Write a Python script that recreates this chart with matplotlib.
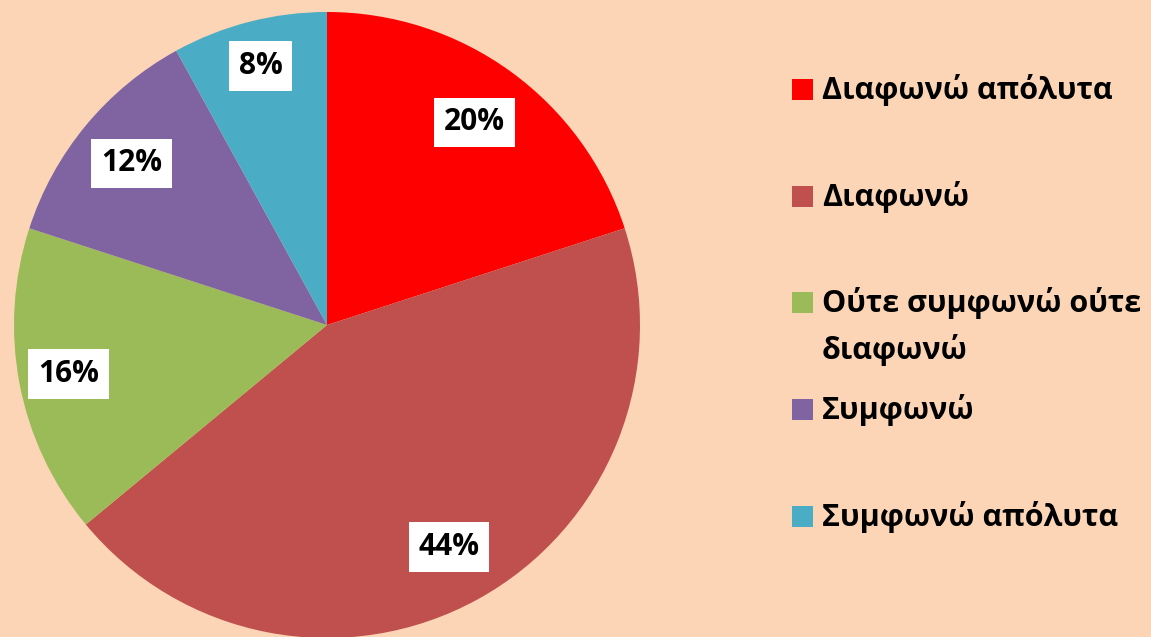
import matplotlib
matplotlib.use("Agg")
from matplotlib import pyplot as plt
from matplotlib.patches import Rectangle
import numpy as np

labels = ["Διαφωνώ απόλυτα", "Διαφωνώ", "Ούτε συμφωνώ ούτε\nδιαφωνώ", "Συμφωνώ", "Συμφωνώ απόλυτα"]
values = [20, 44, 16, 12, 8]
colors = ["#FF0000", "#C0504D", "#9BBB59", "#8064A2", "#4BACC6"]

bg = "#FBD5B5"
W, H = 1151, 637

plt.rcParams["font.family"] = ["Open Sans", "DejaVu Sans"]

fig = plt.figure(figsize=(W / 100, H / 100), dpi=100)
fig.patch.set_facecolor(bg)

# pie area in pixels: centre (327,325), radius 313
cx, cy, r = 327, 325, 313
ax = fig.add_axes([(cx - r) / W, (H - cy - r) / H, 2 * r / W, 2 * r / H])
ax.set_facecolor(bg)
ax.axis("off")

wedges, texts = ax.pie(values, colors=colors, startangle=90, counterclock=False,
                       radius=1, labels=[f"{v}%" for v in values], labeldistance=0.8,
                       wedgeprops=dict(linewidth=0))
# label distances a bit different per slice, like the original
dists = [0.80, 0.81, 0.84, 0.81, 0.855]
for t, w, d in zip(texts, wedges, dists):
    ang = np.deg2rad((w.theta1 + w.theta2) / 2)
    t.set_position((d * np.cos(ang), d * np.sin(ang)))
    t.set_ha("center")
    t.set_va("center")
    t.set_fontsize(21.5)
    t.set_fontweight("bold")
    t.set_bbox(dict(facecolor="white", edgecolor="none", pad=7))
ax.set_xlim(-1, 1)
ax.set_ylim(-1, 1)
ax.set_aspect("equal")

# legend drawn by hand (wrapped entry keeps marker on first line)
rows = [90, 197, 303, 410, 517]
for lab, col, y in zip(labels, colors, rows):
    fig.patches.append(Rectangle(((792) / W, (H - y - 10) / H), 21 / W, 21 / H,
                                 transform=fig.transFigure, facecolor=col, edgecolor="none"))
    for i, line in enumerate(lab.split("\n")):
        fig.text(822 / W, (H - y - i * 47) / H, line, fontsize=22, fontweight="bold",
                 ha="left", va="center", color="black")

fig.savefig("out.png", dpi=100, facecolor=bg)
